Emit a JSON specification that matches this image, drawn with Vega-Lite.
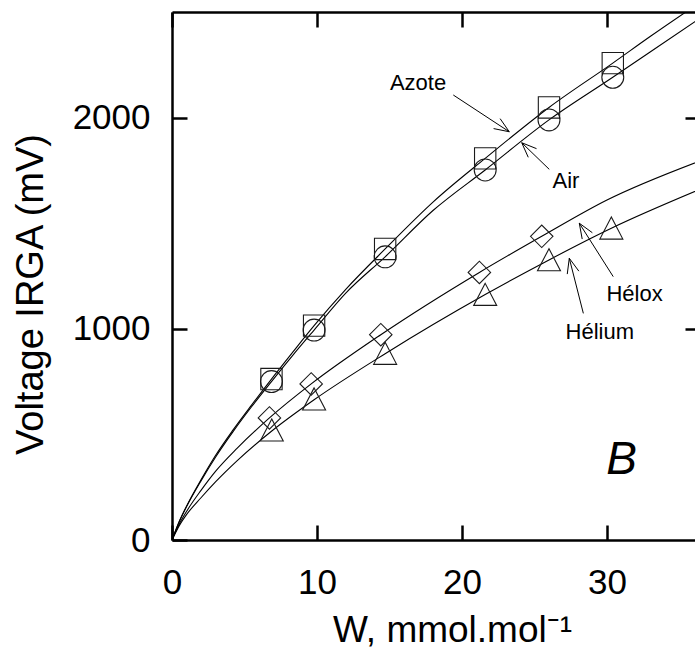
{
  "$schema": "https://vega.github.io/schema/vega-lite/v6.json",
  "width": 523,
  "height": 528,
  "autosize": {"type": "none"},
  "padding": {"left": 172, "top": 12, "right": 0, "bottom": 113},
  "background": "white",
  "config": {"view": {"stroke": null}, "font": "Liberation Sans"},
  "datasets": {
    "points": [
      {"gas": "Azote", "w": 6.86, "v": 762}, {"gas": "Azote", "w": 9.8, "v": 1015}, {"gas": "Azote", "w": 14.7, "v": 1378},
      {"gas": "Azote", "w": 21.6, "v": 1807}, {"gas": "Azote", "w": 26.0, "v": 2048}, {"gas": "Azote", "w": 30.4, "v": 2258},
      {"gas": "Air", "w": 6.86, "v": 750}, {"gas": "Air", "w": 9.8, "v": 994}, {"gas": "Air", "w": 14.7, "v": 1341},
      {"gas": "Air", "w": 21.6, "v": 1752}, {"gas": "Air", "w": 26.0, "v": 1989}, {"gas": "Air", "w": 30.4, "v": 2191},
      {"gas": "Hélox", "w": 6.72, "v": 578}, {"gas": "Hélox", "w": 9.6, "v": 739}, {"gas": "Hélox", "w": 14.4, "v": 972},
      {"gas": "Hélox", "w": 21.2, "v": 1267}, {"gas": "Hélox", "w": 25.5, "v": 1438},
      {"gas": "Hélium", "w": 6.88, "v": 521}, {"gas": "Hélium", "w": 9.8, "v": 668}, {"gas": "Hélium", "w": 14.7, "v": 884},
      {"gas": "Hélium", "w": 21.6, "v": 1163}, {"gas": "Hélium", "w": 26.0, "v": 1327}, {"gas": "Hélium", "w": 30.3, "v": 1477}
    ],
    "curves": [
      {"gas": "Azote", "w": 0, "v": 0}, {"gas": "Azote", "w": 0.5, "v": 88}, {"gas": "Azote", "w": 1, "v": 160}, {"gas": "Azote", "w": 2, "v": 285},
      {"gas": "Azote", "w": 3, "v": 400}, {"gas": "Azote", "w": 4.2, "v": 520}, {"gas": "Azote", "w": 5.5, "v": 640}, {"gas": "Azote", "w": 6.86, "v": 762},
      {"gas": "Azote", "w": 8.3, "v": 887}, {"gas": "Azote", "w": 9.8, "v": 1015}, {"gas": "Azote", "w": 12, "v": 1188}, {"gas": "Azote", "w": 14.7, "v": 1378},
      {"gas": "Azote", "w": 18, "v": 1600}, {"gas": "Azote", "w": 21.6, "v": 1807}, {"gas": "Azote", "w": 26, "v": 2048}, {"gas": "Azote", "w": 30.4, "v": 2258},
      {"gas": "Azote", "w": 33, "v": 2385}, {"gas": "Azote", "w": 36.3, "v": 2540},
      {"gas": "Air", "w": 0, "v": 0}, {"gas": "Air", "w": 0.5, "v": 86}, {"gas": "Air", "w": 1, "v": 157}, {"gas": "Air", "w": 2, "v": 280},
      {"gas": "Air", "w": 3, "v": 392}, {"gas": "Air", "w": 4.2, "v": 512}, {"gas": "Air", "w": 5.5, "v": 632}, {"gas": "Air", "w": 6.86, "v": 750},
      {"gas": "Air", "w": 8.3, "v": 872}, {"gas": "Air", "w": 9.8, "v": 994}, {"gas": "Air", "w": 12, "v": 1170}, {"gas": "Air", "w": 14.7, "v": 1341},
      {"gas": "Air", "w": 18, "v": 1560}, {"gas": "Air", "w": 21.6, "v": 1752}, {"gas": "Air", "w": 26, "v": 1989}, {"gas": "Air", "w": 30.4, "v": 2191},
      {"gas": "Air", "w": 33, "v": 2312}, {"gas": "Air", "w": 36.3, "v": 2465},
      {"gas": "Hélox", "w": 0, "v": 0}, {"gas": "Hélox", "w": 0.5, "v": 75}, {"gas": "Hélox", "w": 1, "v": 135}, {"gas": "Hélox", "w": 2, "v": 235},
      {"gas": "Hélox", "w": 3, "v": 325}, {"gas": "Hélox", "w": 4.5, "v": 435}, {"gas": "Hélox", "w": 6.72, "v": 578}, {"gas": "Hélox", "w": 9.6, "v": 739},
      {"gas": "Hélox", "w": 14.4, "v": 972}, {"gas": "Hélox", "w": 21.2, "v": 1267}, {"gas": "Hélox", "w": 25.5, "v": 1438}, {"gas": "Hélox", "w": 30, "v": 1610},
      {"gas": "Hélox", "w": 36.3, "v": 1792},
      {"gas": "Hélium", "w": 0, "v": 0}, {"gas": "Hélium", "w": 0.5, "v": 68}, {"gas": "Hélium", "w": 1, "v": 120}, {"gas": "Hélium", "w": 2, "v": 200},
      {"gas": "Hélium", "w": 3, "v": 275}, {"gas": "Hélium", "w": 4.5, "v": 376}, {"gas": "Hélium", "w": 6.88, "v": 516}, {"gas": "Hélium", "w": 9.8, "v": 664},
      {"gas": "Hélium", "w": 14.7, "v": 882}, {"gas": "Hélium", "w": 21.6, "v": 1162}, {"gas": "Hélium", "w": 26, "v": 1326}, {"gas": "Hélium", "w": 30.3, "v": 1476},
      {"gas": "Hélium", "w": 36.3, "v": 1657}
    ],
    "arrows": [
      {"w": 19.40, "v": 2107, "w2": 23.26, "v2": 1933}, {"w": 22.63, "v": 1995, "w2": 23.26, "v2": 1933}, {"w": 22.18, "v": 1948, "w2": 23.26, "v2": 1933},
      {"w": 26.02, "v": 1755, "w2": 24.12, "v2": 1881}, {"w": 24.57, "v": 1812, "w2": 24.12, "v2": 1881}, {"w": 25.14, "v": 1853, "w2": 24.12, "v2": 1881},
      {"w": 30.43, "v": 1247, "w2": 28.09, "v2": 1500}, {"w": 28.29, "v": 1425, "w2": 28.09, "v2": 1500}, {"w": 28.99, "v": 1455, "w2": 28.09, "v2": 1500},
      {"w": 28.37, "v": 1073, "w2": 27.40, "v2": 1334}, {"w": 27.26, "v": 1259, "w2": 27.40, "v2": 1334}, {"w": 28.06, "v": 1273, "w2": 27.40, "v2": 1334}
    ],
    "labels": [
      {"text": "Azote", "w": 16.97, "v": 2131},
      {"text": "Air", "w": 27.17, "v": 1667},
      {"text": "Hélox", "w": 31.9, "v": 1132},
      {"text": "Hélium", "w": 29.5, "v": 952}
    ],
    "panel": [{"text": "B", "w": 31.0, "v": 312}]
  },
  "resolve": {"axis": {"x": "independent", "y": "independent"}},
  "layer": [
    {
      "data": {"name": "curves"},
      "mark": {"type": "line", "color": "black", "strokeWidth": 1.1, "interpolate": "monotone", "clip": true},
      "encoding": {
        "x": {"field": "w", "type": "quantitative", "scale": {"domain": [0, 36.07], "nice": false, "zero": false},
          "axis": {"orient": "bottom", "values": [0, 10, 20, 30], "format": "d", "grid": false, "tickSize": -15, "tickWidth": 2.5, "tickColor": "black",
            "domainWidth": 2.5, "domainColor": "black", "labelFontSize": 35, "labelColor": "black", "labelFont": "Liberation Sans",
            "labelPadding": 40, "labelFlush": false, "labelOverlap": false,
            "title": "W, mmol.mol⁻¹", "titleFontSize": 37, "titleFontWeight": "normal", "titleColor": "black", "titleFont": "Liberation Sans",
            "titleX": 280, "titleY": 101, "titleBaseline": "alphabetic", "titleAlign": "center"}},
        "y": {"field": "v", "type": "quantitative", "scale": {"domain": [0, 2500], "nice": false},
          "axis": {"orient": "left", "values": [0, 1000, 2000], "format": "d", "grid": false, "tickSize": -15, "tickWidth": 2.5, "tickColor": "black",
            "domainWidth": 2.5, "domainColor": "black", "labelFontSize": 35, "labelColor": "black", "labelFont": "Liberation Sans",
            "labelPadding": 37, "labelFlush": false, "labelOverlap": false,
            "title": "Voltage IRGA (mV)", "titleFontSize": 38, "titleFontWeight": "normal", "titleColor": "black", "titleFont": "Liberation Sans",
            "titleX": -130, "titleY": 282, "titleAngle": -90, "titleBaseline": "alphabetic", "titleAlign": "center"}},
        "detail": {"field": "gas"}
      }
    },
    {
      "data": {"name": "points"},
      "mark": {"type": "point", "filled": false, "stroke": "#1a1a1a", "strokeWidth": 1.1, "opacity": 1},
      "encoding": {
        "x": {"field": "w", "type": "quantitative",
          "axis": {"orient": "top", "values": [0, 10, 20, 30], "grid": false, "labels": false, "title": null, "tickSize": -15, "tickWidth": 2.5,
            "tickColor": "black", "domainWidth": 2.5, "domainColor": "black"}},
        "y": {"field": "v", "type": "quantitative",
          "axis": {"orient": "right", "values": [1000, 2000], "grid": false, "labels": false, "title": null, "tickSize": -10, "tickWidth": 2.5,
            "tickColor": "black", "domain": false}},
        "shape": {"field": "gas", "type": "nominal", "legend": null,
          "scale": {"domain": ["Azote", "Air", "Hélox", "Hélium"], "range": ["square", "circle", "diamond", "M0,-0.96L-1,0.96L1,0.96Z"]}},
        "size": {"field": "gas", "type": "nominal", "legend": null,
          "scale": {"domain": ["Azote", "Air", "Hélox", "Hélium"], "range": [455, 529, 576, 576]}}
      }
    },
    {
      "data": {"name": "arrows"},
      "mark": {"type": "rule", "color": "black", "strokeWidth": 1},
      "encoding": {
        "x": {"field": "w", "type": "quantitative", "axis": null},
        "y": {"field": "v", "type": "quantitative", "axis": null},
        "x2": {"field": "w2"},
        "y2": {"field": "v2"}
      }
    },
    {
      "data": {"name": "labels"},
      "mark": {"type": "text", "font": "Liberation Sans", "fontSize": 22, "color": "black", "align": "center", "baseline": "alphabetic"},
      "encoding": {
        "x": {"field": "w", "type": "quantitative", "axis": null},
        "y": {"field": "v", "type": "quantitative", "axis": null},
        "text": {"field": "text"}
      }
    },
    {
      "data": {"name": "panel"},
      "mark": {"type": "text", "font": "Liberation Sans", "fontSize": 46, "fontStyle": "italic", "color": "black", "align": "center", "baseline": "alphabetic"},
      "encoding": {
        "x": {"field": "w", "type": "quantitative", "axis": null},
        "y": {"field": "v", "type": "quantitative", "axis": null},
        "text": {"field": "text"}
      }
    }
  ]
}
